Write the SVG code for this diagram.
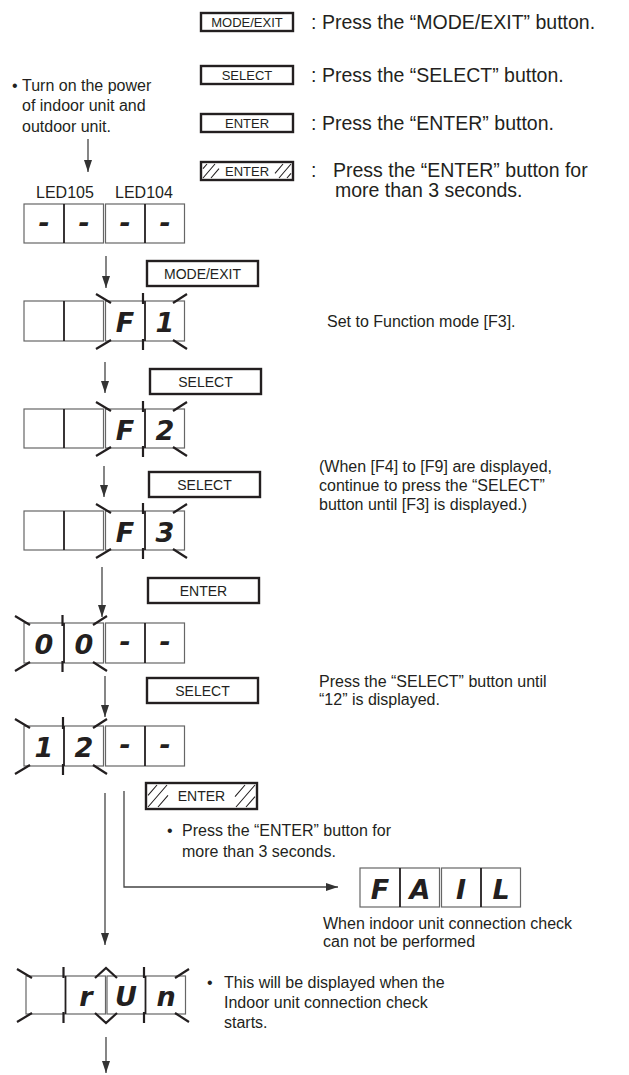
<svg xmlns="http://www.w3.org/2000/svg" width="629" height="1075" viewBox="0 0 629 1075">
<defs>
<style>
.txt{font-family:"Liberation Sans",Arial,sans-serif;font-size:16px;fill:#231f20}
.leg{font-size:19.5px}
.btn{fill:#fff;stroke:#231f20;stroke-width:2.4}
.btxt{font-family:"Liberation Sans",Arial,sans-serif;font-size:14px;fill:#231f20;text-anchor:middle}
.lbtxt{font-size:13px}
.hatch{stroke:#231f20;stroke-width:1.1;fill:none}
.cell{fill:#fff;stroke:#666;stroke-width:1.2}
.dv{stroke:#231f20;stroke-width:1.8}
.mk{stroke:#231f20;stroke-width:2.2;fill:none}
.seg{font-family:"DejaVu Sans",sans-serif;font-weight:bold;font-style:oblique;font-size:27px;fill:#231f20;text-anchor:middle}
.conn{stroke:#444;stroke-width:1.3;fill:none}
</style>
<marker id="ah" markerUnits="userSpaceOnUse" markerWidth="12" markerHeight="8" refX="12" refY="4" orient="auto">
<path d="M0,0 L12,4 L0,8 z" fill="#333"/>
</marker>
</defs>
<rect width="629" height="1075" fill="#fff"/>

<!-- Legend -->
<g id="legend-mode-exit">
<rect class="btn" x="201" y="13" width="92" height="18"/>
<text class="btxt lbtxt" x="247" y="26.7">MODE/EXIT</text>
<text class="txt leg" x="311" y="28.5">:</text>
<text class="txt leg" x="322" y="28.5">Press the “MODE/EXIT” button.</text>
</g>
<g id="legend-select">
<rect class="btn" x="201" y="66" width="92" height="18"/>
<text class="btxt lbtxt" x="247" y="79.7">SELECT</text>
<text class="txt leg" x="311" y="81.5">:</text>
<text class="txt leg" x="322" y="81.5">Press the “SELECT” button.</text>
</g>
<g id="legend-enter">
<rect class="btn" x="201" y="114" width="92" height="18"/>
<text class="btxt lbtxt" x="247" y="127.7">ENTER</text>
<text class="txt leg" x="311" y="129.5">:</text>
<text class="txt leg" x="322" y="129.5">Press the “ENTER” button.</text>
</g>
<g id="legend-enter-hold">
<rect class="btn" x="201" y="162" width="92" height="18"/>
<path class="hatch" d="M203,178 L215,164 M203,168.7 L207,164 M211,178 L219,168.7 M279,178 L291,164 M275,173.3 L283,164 M287,178 L291,173.3"/>
<text class="btxt lbtxt" x="247" y="175.7">ENTER</text>
<text class="txt leg" x="311" y="177">:</text>
<text class="txt leg" x="333" y="177">Press the “ENTER” button for</text>
<text class="txt leg" x="335" y="197">more than 3 seconds.</text>
</g>

<!-- Start text -->
<g id="start-text">
<text class="txt" x="12" y="91">•</text>
<text class="txt" x="22" y="91">Turn on the power</text>
<text class="txt" x="22" y="111">of indoor unit and</text>
<text class="txt" x="22" y="132">outdoor unit.</text>
</g>

<g id="led-labels">
<text class="txt" x="36" y="198">LED105</text>
<text class="txt" x="115" y="198">LED104</text>
</g>

<!-- Display 1 -->
<g id="display-1">
<rect class="cell" x="24" y="204" width="79.5" height="39"/>
<rect class="cell" x="105.5" y="204" width="79" height="39"/>
<line class="dv" x1="64" y1="204" x2="64" y2="243"/>
<line class="dv" x1="145" y1="204" x2="145" y2="243"/>
<text class="seg" x="44" y="232">-</text>
<text class="seg" x="84" y="232">-</text>
<text class="seg" x="125" y="232">-</text>
<text class="seg" x="165" y="232">-</text>
</g>

<!-- Display 2 -->
<g id="display-2">
<rect class="cell" x="24" y="301" width="79.5" height="40"/>
<rect class="cell" x="105.5" y="301" width="79" height="40"/>
<line class="dv" x1="64" y1="301" x2="64" y2="341"/>
<line class="dv" x1="145" y1="301" x2="145" y2="341"/>
<text class="seg" x="125" y="332">F</text>
<text class="seg" x="165" y="332">1</text>
<path class="mk" d="M96,294 L111,303 M96,349 L111,340 M173,303 L187,294 M173,340 L187,349 M143,293 L143,304 M143,339 L143,350"/>
</g>

<!-- Display 3 -->
<g id="display-3">
<rect class="cell" x="24" y="409" width="79.5" height="39"/>
<rect class="cell" x="105.5" y="409" width="79" height="39"/>
<line class="dv" x1="64" y1="409" x2="64" y2="448"/>
<line class="dv" x1="145" y1="409" x2="145" y2="448"/>
<text class="seg" x="125" y="440">F</text>
<text class="seg" x="165" y="440">2</text>
<path class="mk" d="M96,402 L111,411 M96,456 L111,447 M173,411 L187,402 M173,447 L187,456 M143,401 L143,412 M143,446 L143,457"/>
</g>

<!-- Display 4 -->
<g id="display-4">
<rect class="cell" x="24" y="511" width="79.5" height="39"/>
<rect class="cell" x="105.5" y="511" width="79" height="39"/>
<line class="dv" x1="64" y1="511" x2="64" y2="550"/>
<line class="dv" x1="145" y1="511" x2="145" y2="550"/>
<text class="seg" x="125" y="542">F</text>
<text class="seg" x="165" y="542">3</text>
<path class="mk" d="M96,504 L111,513 M96,558 L111,549 M173,513 L187,504 M173,549 L187,558 M143,503 L143,514 M143,548 L143,559"/>
</g>

<!-- Display 5 -->
<g id="display-5">
<rect class="cell" x="24" y="623" width="79.5" height="40"/>
<rect class="cell" x="105.5" y="623" width="79" height="40"/>
<line class="dv" x1="64" y1="623" x2="64" y2="663"/>
<line class="dv" x1="145" y1="623" x2="145" y2="663"/>
<text class="seg" x="44" y="654">0</text>
<text class="seg" x="84" y="654">0</text>
<text class="seg" x="125" y="651">-</text>
<text class="seg" x="165" y="651">-</text>
<path class="mk" d="M15,616 L30,625 M15,671 L30,662 M93,625 L107,616 M93,662 L107,671 M62.5,615 L62.5,626 M62.5,661 L62.5,672"/>
</g>

<!-- Display 6 -->
<g id="display-6">
<rect class="cell" x="24" y="726" width="79.5" height="40"/>
<rect class="cell" x="105.5" y="726" width="79" height="40"/>
<line class="dv" x1="64" y1="726" x2="64" y2="766"/>
<line class="dv" x1="145" y1="726" x2="145" y2="766"/>
<text class="seg" x="44" y="757">1</text>
<text class="seg" x="84" y="757">2</text>
<text class="seg" x="125" y="754">-</text>
<text class="seg" x="165" y="754">-</text>
<path class="mk" d="M15,719 L30,728 M15,774 L30,765 M93,728 L107,719 M93,765 L107,774 M63,717 L63,729 M63,764 L63,775"/>
</g>

<!-- Display 7 FAIL -->
<g id="display-fail">
<rect class="cell" x="360" y="868" width="79.5" height="39"/>
<rect class="cell" x="441.5" y="868" width="79" height="39"/>
<line class="dv" x1="400" y1="868" x2="400" y2="907"/>
<line class="dv" x1="481" y1="868" x2="481" y2="907"/>
<text class="seg" x="380" y="899">F</text>
<text class="seg" x="420" y="899">A</text>
<text class="seg" x="461" y="899">I</text>
<text class="seg" x="501" y="899">L</text>
</g>

<!-- Display 8 run -->
<g id="display-run">
<rect class="cell" x="26" y="976" width="79.5" height="38"/>
<rect class="cell" x="107" y="976" width="78.5" height="38"/>
<line class="dv" x1="65.5" y1="976" x2="65.5" y2="1014"/>
<line class="dv" x1="145.5" y1="976" x2="145.5" y2="1014"/>
<text class="seg" x="86" y="1006">r</text>
<text class="seg" x="126" y="1006">U</text>
<text class="seg" x="166" y="1006">n</text>
<path class="mk" d="M17,969 L32,978 M17,1022 L32,1013 M175,978 L189,969 M175,1013 L189,1022 M95,978 L106,968 L117,978 M95,1013 L106,1023 L117,1013 M63.5,967 L63.5,978 M63.5,1012 L63.5,1023 M144,967 L144,978 M144,1012 L144,1023"/>
</g>

<!-- Flow buttons -->
<g id="btn-mode-exit">
<rect class="btn" x="147" y="261" width="111" height="25"/>
<text class="btxt" x="202.5" y="278.5">MODE/EXIT</text>
</g>
<g id="btn-select-1">
<rect class="btn" x="150" y="369" width="111" height="25"/>
<text class="btxt" x="205.5" y="386.5">SELECT</text>
</g>
<g id="btn-select-2">
<rect class="btn" x="149" y="472" width="111" height="25"/>
<text class="btxt" x="204.5" y="489.5">SELECT</text>
</g>
<g id="btn-enter">
<rect class="btn" x="148" y="578" width="111" height="25"/>
<text class="btxt" x="203.5" y="595.5">ENTER</text>
</g>
<g id="btn-select-3">
<rect class="btn" x="147" y="678" width="111" height="25"/>
<text class="btxt" x="202.5" y="695.5">SELECT</text>
</g>
<g id="btn-enter-hold">
<rect class="btn" x="146" y="783" width="111" height="26"/>
<path class="hatch" d="M148,807 L167,785 M148,795.4 L157,785 M158,807 L168,795.4 M236,807 L255,785 M235,796.6 L245,785 M246,807 L255,796.6"/>
<text class="btxt" x="201.5" y="801">ENTER</text>
</g>

<!-- Notes -->
<g id="notes">
<text class="txt" x="327" y="327">Set to Function mode [F3].</text>
<text class="txt" x="319" y="472">(When [F4] to [F9] are displayed,</text>
<text class="txt" x="319" y="491">continue to press the “SELECT”</text>
<text class="txt" x="319" y="510">button until [F3] is displayed.)</text>
<text class="txt" x="319" y="687">Press the “SELECT” button until</text>
<text class="txt" x="319" y="705">“12” is displayed.</text>
<text class="txt" x="167" y="836">•</text>
<text class="txt" x="182" y="836">Press the “ENTER” button for</text>
<text class="txt" x="182" y="857">more than 3 seconds.</text>
<text class="txt" x="323" y="929">When indoor unit connection check</text>
<text class="txt" x="323" y="947">can not be performed</text>
<text class="txt" x="207" y="988">•</text>
<text class="txt" x="224" y="988">This will be displayed when the</text>
<text class="txt" x="224" y="1008">Indoor unit connection check</text>
<text class="txt" x="224" y="1028">starts.</text>
</g>

<!-- Connectors -->
<g id="connectors">
<line class="conn" x1="88" y1="139" x2="88" y2="172" marker-end="url(#ah)"/>
<line class="conn" x1="106" y1="256" x2="106" y2="288" marker-end="url(#ah)"/>
<line class="conn" x1="105" y1="362" x2="105" y2="393" marker-end="url(#ah)"/>
<line class="conn" x1="104" y1="466" x2="104" y2="497" marker-end="url(#ah)"/>
<line class="conn" x1="102" y1="567" x2="102" y2="617" marker-end="url(#ah)"/>
<line class="conn" x1="105" y1="676" x2="105" y2="717" marker-end="url(#ah)"/>
<line class="conn" x1="105" y1="793" x2="105" y2="945" marker-end="url(#ah)"/>
<polyline class="conn" points="124,791 124,887 338,887" marker-end="url(#ah)"/>
<line class="conn" x1="106" y1="1037" x2="106" y2="1073" marker-end="url(#ah)"/>
</g>
</svg>
